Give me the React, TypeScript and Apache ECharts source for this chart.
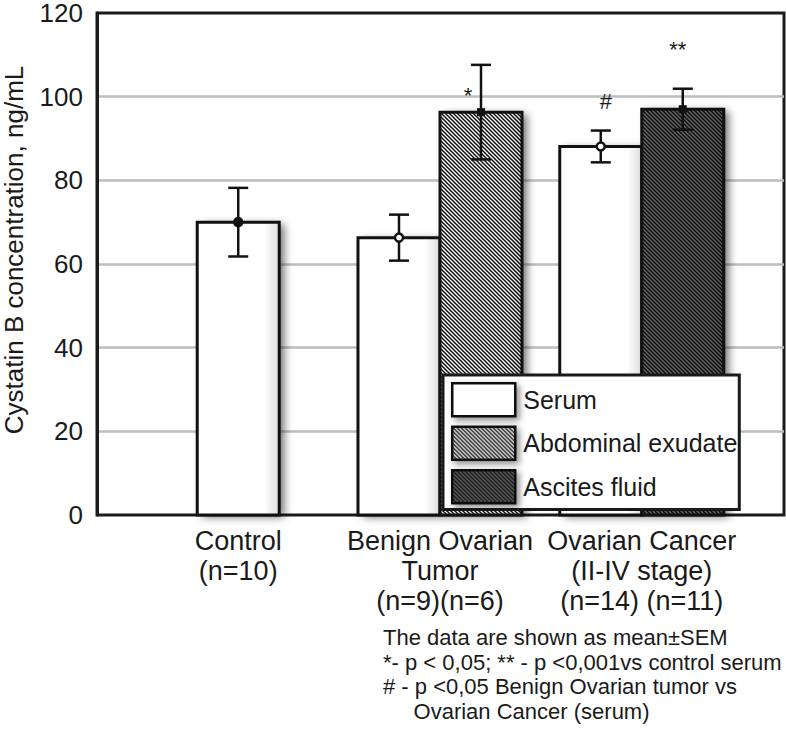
import React, { useEffect, useRef } from 'react';
import * as echarts from 'echarts';

const categories = ['Control', 'Benign Ovarian\nTumor', 'Ovarian Cancer\n(II-IV stage)'];
const sampleSizeLabels = ['(n=10)', '(n=9)(n=6)', '(n=14) (n=11)'];
const seriesNames = ['Serum', 'Abdominal exudate', 'Ascites fluid'];
const serumMean = [70, 66.3, 88.1];
const serumSem = [8.2, 5.5, 3.8];
const abdominalMean: (number | null)[] = [null, 96.3, null];
const abdominalSem: (number | null)[] = [null, 11.3, null];
const ascitesMean: (number | null)[] = [null, null, 97];
const ascitesSem: (number | null)[] = [null, null, 4.9];
const serumMarks = ['', '', '#'];
const abdominalMarks = ['', '*', ''];
const ascitesMarks = ['', '', '**'];
const yTicks = [0, 20, 40, 60, 80, 100, 120];
const yAxisTitle = 'Cystatin B concentration, ng/mL';
const footnotes = [
  'The data are shown as mean±SEM',
  '*- p < 0,05; ** - p <0,001vs control serum',
  '# - p <0,05 Benign Ovarian tumor vs',
  '\u00a0\u00a0\u00a0\u00a0\u00a0Ovarian Cancer (serum)',
];

const FONT = '"Liberation Sans", Arial, Helvetica, sans-serif';
const INK = '#1a1a1a';
const BAR_W = 82;

function stripes(bg: string, fg: string) {
  const svg =
    `<svg xmlns='http://www.w3.org/2000/svg' width='4' height='4'>` +
    `<rect width='4' height='4' fill='${bg}'/>` +
    `<path d='M-1,-1 L5,5 M-1,3 L1,5 M3,-1 L5,1' stroke='${fg}' stroke-width='1.5'/></svg>`;
  return {
    image: 'data:image/svg+xml;charset=utf-8,' + encodeURIComponent(svg),
    repeat: 'repeat',
    imageWidth: 4,
    imageHeight: 4,
  };
}

const fills: Record<string, any> = {
  serum: '#ffffff',
  abdominal: stripes('#ffffff', '#111111'),
  ascites: stripes('#666666', '#111111'),
};

const marks: Record<string, string[]> = {
  serum: serumMarks,
  abdominal: abdominalMarks,
  ascites: ascitesMarks,
};

function makeRender(kind: string) {
  return (params: any, api: any) => {
    const xv = api.value(0);
    const m = api.value(1);
    const e = api.value(2);
    const i = api.value(3);
    const paired = abdominalMean[i] != null || ascitesMean[i] != null;
    const off = kind === 'serum' ? (paired ? -BAR_W / 2 : 0) : BAR_W / 2;
    const base = api.coord([xv, 0]);
    const top = api.coord([xv, m]);
    const hi = api.coord([xv, m + e]);
    const lo = api.coord([xv, m - e]);
    const cx = base[0] + off;
    const shape = { x: cx - BAR_W / 2, y: top[1], width: BAR_W, height: base[1] - top[1] };
    const children: any[] = [
      {
        type: 'rect',
        shape,
        style: {
          fill: fills[kind],
          shadowBlur: 9,
          shadowOffsetX: 5,
          shadowOffsetY: 2,
          shadowColor: 'rgba(0,0,0,0.55)',
        },
      },
      {
        type: 'rect',
        shape,
        style: {
          fill: new echarts.graphic.LinearGradient(0, 0, 1, 0, [
            { offset: 0, color: 'rgba(0,0,0,0)' },
            { offset: 0.82, color: 'rgba(0,0,0,0)' },
            { offset: 1, color: 'rgba(0,0,0,0.13)' },
          ]),
        },
      },
      {
        type: 'rect',
        shape,
        style: { fill: 'none', stroke: '#111', lineWidth: 3 },
      },
      {
        type: 'line',
        shape: { x1: cx, y1: hi[1], x2: cx, y2: lo[1] },
        style: { stroke: '#111', lineWidth: 2.5 },
      },
      {
        type: 'line',
        shape: { x1: cx - 10, y1: hi[1], x2: cx + 10, y2: hi[1] },
        style: { stroke: '#111', lineWidth: 2.5 },
      },
      {
        type: 'line',
        shape: { x1: cx - 10, y1: lo[1], x2: cx + 10, y2: lo[1] },
        style: { stroke: '#111', lineWidth: 2.5 },
      },
      kind === 'serum'
        ? {
            type: 'circle',
            shape: { cx, cy: top[1], r: 4 },
            style: { fill: i === 0 ? '#111' : '#fff', stroke: '#111', lineWidth: 2.5 },
          }
        : {
            type: 'rect',
            shape: { x: cx - 4, y: top[1] - 4, width: 8, height: 8 },
            style: { fill: '#111' },
          },
    ];
    const t = marks[kind][i];
    if (t) {
      let x = cx;
      let y = hi[1];
      if (kind === 'serum') { x = cx + 5; y = hi[1] - 29; }
      else if (kind === 'abdominal') { x = cx - 13; y = top[1] - 17; }
      else { x = cx - 5; y = hi[1] - 39; }
      children.push({
        type: 'text',
        x,
        y,
        style: {
          text: t,
          fontSize: 22,
          fontFamily: FONT,
          fill: INK,
          align: 'center',
          verticalAlign: 'middle',
        },
      });
    }
    return { type: 'group', children };
  };
}

function seriesData(means: (number | null)[], sems: (number | null)[]) {
  const out: any[] = [];
  means.forEach((m, i) => {
    if (m != null) out.push([i + 1, m, sems[i], i]);
  });
  return out;
}

export default function App() {
  const ref = useRef<HTMLDivElement>(null);
  useEffect(() => {
    if (!ref.current) return;
    const chart = echarts.init(ref.current, null, { renderer: 'svg' });
    const kinds = ['serum', 'abdominal', 'ascites'];
    const allData = [
      seriesData(serumMean, serumSem),
      seriesData(abdominalMean, abdominalSem),
      seriesData(ascitesMean, ascitesSem),
    ];
    const option: any = {
      animation: false,
      textStyle: { fontFamily: FONT, color: INK },
      grid: {
        left: 97,
        right: 2,
        top: 10,
        bottom: 216,
        show: true,
        borderColor: INK,
        borderWidth: 3,
      },
      xAxis: {
        type: 'value',
        min: 0.3,
        max: 3.705,
        axisLine: { show: false },
        axisTick: { show: false },
        splitLine: { show: false },
        axisLabel: {
          customValues: [1, 2, 3],
          formatter: (v: number) => {
            const k = Math.round(v) - 1;
            return categories[k] + '\n' + sampleSizeLabels[k];
          },
          fontSize: 27,
          lineHeight: 30,
          margin: 11,
          color: INK,
          fontFamily: FONT,
        },
      },
      yAxis: {
        type: 'value',
        min: yTicks[0],
        max: yTicks[yTicks.length - 1],
        interval: yTicks[1] - yTicks[0],
        axisLine: { show: true, lineStyle: { color: INK, width: 3 } },
        axisTick: { show: false },
        splitLine: {
          show: true,
          showMinLine: false,
          showMaxLine: false,
          lineStyle: { color: '#bdbdbd', width: 2.5 },
        },
        axisLabel: { fontSize: 26, lineHeight: 20, margin: 14, color: INK, fontFamily: FONT },
      },
      legend: {
        orient: 'vertical',
        left: 443,
        top: 375,
        padding: [7, 2, 5, 8],
        itemGap: 8,
        itemWidth: 63,
        itemHeight: 33,
        icon: 'rect',
        backgroundColor: '#fff',
        borderColor: INK,
        borderWidth: 3,
        borderRadius: 0,
        itemStyle: {
          borderColor: '#111',
          borderWidth: 2.5,
          shadowBlur: 6,
          shadowOffsetX: 3,
          shadowOffsetY: 3,
          shadowColor: 'rgba(0,0,0,0.45)',
        },
        textStyle: { fontSize: 25, color: INK, fontFamily: FONT, padding: [0, 0, 0, 3] },
        data: seriesNames,
      },
      series: kinds.map((k, idx) => ({
        type: 'custom',
        name: seriesNames[idx],
        renderItem: makeRender(k),
        encode: { x: 0, y: [1] },
        itemStyle: { color: fills[k], borderColor: '#111', borderWidth: 2.5 },
        data: allData[idx],
        z: 3,
      })),
      graphic: [
        {
          type: 'text',
          x: 14,
          y: 250,
          rotation: Math.PI / 2,
          style: {
            text: yAxisTitle,
            fontSize: 26,
            lineHeight: 24,
            fontFamily: FONT,
            fill: INK,
            align: 'center',
            verticalAlign: 'middle',
          },
        },
        {
          type: 'text',
          x: 383,
          y: 625,
          style: {
            text: footnotes.join('\n'),
            fontSize: 22,
            lineHeight: 24.7,
            fontFamily: FONT,
            fill: INK,
            align: 'left',
            verticalAlign: 'top',
          },
        },
      ],
    };
    chart.setOption(option);
    return () => chart.dispose();
  }, []);
  return (
    <div
      ref={ref}
      style={{ position: 'fixed', left: 0, top: 0, width: 786, height: 731, background: '#fff' }}
    />
  );
}
